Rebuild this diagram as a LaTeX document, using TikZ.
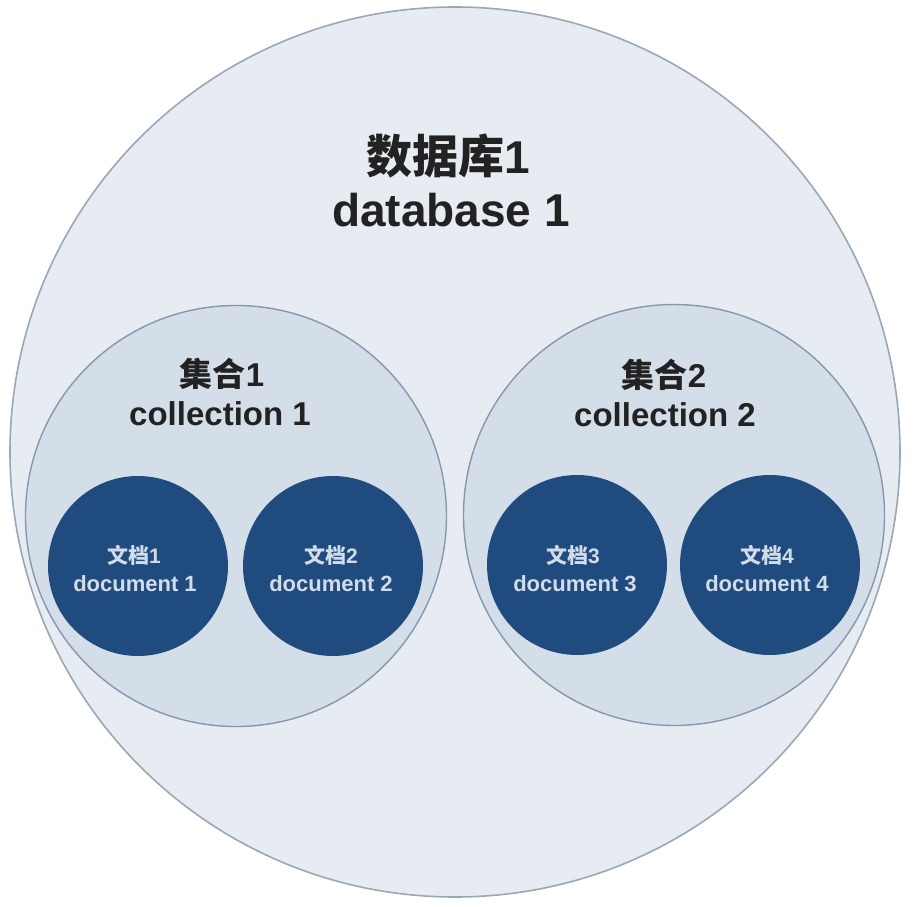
\documentclass[tikz,border=0pt]{standalone}
\usepackage{fontspec}
\setmainfont{Liberation Sans}
\newfontfamily\cjk{Noto Sans CJK SC}
\definecolor{dbfill}{HTML}{E7ECF2}
\definecolor{dbline}{HTML}{9AA7B7}
\definecolor{colfill}{HTML}{D4DEE8}
\definecolor{colline}{HTML}{8797AC}
\definecolor{docfill}{HTML}{1F4B7F}
\definecolor{doctext}{HTML}{D3DCE6}
\definecolor{headtext}{HTML}{222222}
\tikzset{
  dbcircle/.style={circle, draw=dbline, fill=dbfill, line width=1.6pt, minimum size=890pt, inner sep=0pt},
  colcircle/.style={circle, draw=colline, fill=colfill, line width=1.4pt, minimum size=421pt, inner sep=0pt},
  doccircle/.style={circle, fill=docfill, draw=none, minimum size=180pt, inner sep=0pt},
  dbtext/.style={anchor=base, inner sep=0pt, text=headtext, font=\bfseries\fontsize{46}{52}\selectfont},
  coltext/.style={anchor=base, inner sep=0pt, text=headtext, font=\bfseries\fontsize{33}{38}\selectfont},
  doctextstyle/.style={anchor=base, inner sep=0pt, text=doctext, font=\bfseries\fontsize{22}{26}\selectfont},
}
\begin{document}
\begin{tikzpicture}[x=1pt,y=-1pt]
\useasboundingbox (0,0) rectangle (922,907);
\node[dbcircle] (db) at (455,452) {};
\node[colcircle] (c1) at (236,516) {};
\node[colcircle] (c2) at (674,515) {};
\node[doccircle] (d1) at (138,566) {};
\node[doccircle] (d2) at (333,566) {};
\node[doccircle] (d3) at (577,565) {};
\node[doccircle] (d4) at (770,565) {};
% database labels
\node[dbtext] (dbzh) at (448,173) {{\cjk\bfseries 数据库}1};
\node[dbtext] (dben) at (451,226) {database 1};
% collection labels
\node[coltext] (c1zh) at (222,386) {{\cjk\bfseries 集合}1};
\node[coltext] (c1en) at (220,425) {collection 1};
\node[coltext] (c2zh) at (664,387) {{\cjk\bfseries 集合}2};
\node[coltext] (c2en) at (665,426) {collection 2};
% document labels
\node[doctextstyle, font=\bfseries\fontsize{21}{24}\selectfont] (d1zh) at (134,563) {{\cjk\bfseries 文档}1};
\node[doctextstyle] (d1en) at (135,591) {document 1};
\node[doctextstyle, font=\bfseries\fontsize{21}{24}\selectfont] (d2zh) at (331,563) {{\cjk\bfseries 文档}2};
\node[doctextstyle] (d2en) at (331,591) {document 2};
\node[doctextstyle, font=\bfseries\fontsize{21}{24}\selectfont] (d3zh) at (573,563) {{\cjk\bfseries 文档}3};
\node[doctextstyle] (d3en) at (575,591) {document 3};
\node[doctextstyle, font=\bfseries\fontsize{21}{24}\selectfont] (d4zh) at (767,563) {{\cjk\bfseries 文档}4};
\node[doctextstyle] (d4en) at (767,591) {document 4};
\end{tikzpicture}
\end{document}
